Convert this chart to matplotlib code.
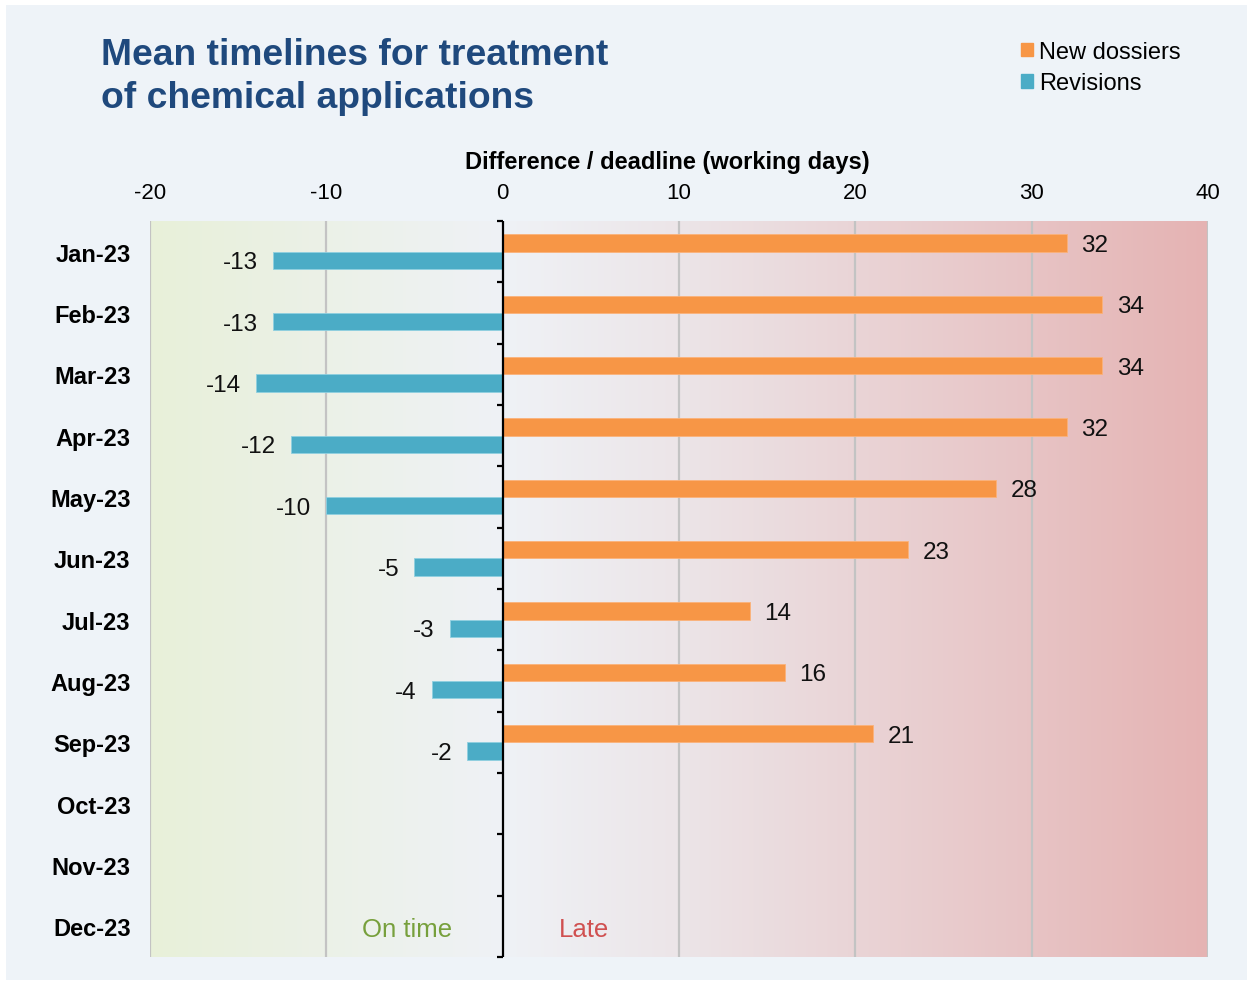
import matplotlib.pyplot as plt
import numpy as np
from matplotlib.colors import to_rgb
from matplotlib.patches import Patch, Rectangle

plt.rcParams['font.family'] = ['Liberation Sans', 'DejaVu Sans']
plt.rcParams['axes.unicode_minus'] = False

months = ["Jan-23", "Feb-23", "Mar-23", "Apr-23", "May-23", "Jun-23",
          "Jul-23", "Aug-23", "Sep-23", "Oct-23", "Nov-23", "Dec-23"]
new_dossiers = [32, 34, 34, 32, 28, 23, 14, 16, 21, None, None, None]
revisions = [-13, -13, -14, -12, -10, -5, -3, -4, -2, None, None, None]
x_ticks = [-20, -10, 0, 10, 20, 30, 40]

ORANGE = "#f79646"
BLUE = "#4bacc6"
TITLE_BLUE = "#1f497d"
BG = "#eef3f8"

fig = plt.figure(figsize=(12.53, 9.87), dpi=100, facecolor="white")
fig.patches.append(Rectangle((6 / 1253, 6 / 987), 1 - 12 / 1253, 1 - 12 / 987,
                             transform=fig.transFigure, facecolor=BG,
                             edgecolor="none", zorder=-10))

ax = fig.add_axes([150 / 1253, 29 / 987, 1058 / 1253, 736 / 987])
ax.set_facecolor("none")

# gradient background: green (on time) -> neutral -> red (late)
stops_x = [-20, 0, 10, 40]
stops_c = [to_rgb(c) for c in ["#e8f0d9", "#eff2f6", "#ece5e8", "#e5b3b3"]]
xs = np.linspace(-20, 40, 400)
grad = np.stack([np.interp(xs, stops_x, [c[i] for c in stops_c]) for i in range(3)], axis=-1)
ax.imshow(grad[np.newaxis, :, :], extent=[-20, 40, 11.5, -0.5], aspect="auto",
          interpolation="bilinear", zorder=0)

for x in x_ticks:
    if x != 0:
        ax.axvline(x, color="#c3c3c3", lw=1.6, zorder=1)

y = np.arange(len(months))
h = 0.28
nd = np.array([np.nan if v is None else v for v in new_dossiers], dtype=float)
rv = np.array([np.nan if v is None else v for v in revisions], dtype=float)
ax.barh(y - h / 2, nd, height=h, color=ORANGE, edgecolor="#fbb27a", lw=0.6, zorder=2)
ax.barh(y + h / 2, rv, height=h, color=BLUE, edgecolor="#8fd0e0", lw=0.6, zorder=2)

for yi, v in zip(y, nd):
    if not np.isnan(v):
        ax.annotate(f"{v:.0f}", (v, yi - h / 2), xytext=(10.5, -1.5), textcoords="offset points",
                    ha="left", va="center", fontsize=17.5, color="#111111")
for yi, v in zip(y, rv):
    if not np.isnan(v):
        ax.annotate(f"{v:.0f}", (v, yi + h / 2), xytext=(-11, -1.5), textcoords="offset points",
                    ha="right", va="center", fontsize=17.5, color="#111111")

# zero axis with category separator ticks
ax.axvline(0, color="black", lw=1.6, zorder=4)
bounds = np.arange(len(months) + 1) - 0.5
ax.plot(np.zeros_like(bounds), bounds, linestyle="none", marker=0, markersize=4.5,
        markeredgewidth=1.6, color="black", zorder=4, clip_on=False)

ax.set_xlim(-20, 40)
ax.set_ylim(11.5, -0.5)
ax.set_xticks(x_ticks)
ax.xaxis.tick_top()
ax.tick_params(axis="x", length=0, pad=13, labelsize=16)
ax.set_yticks(y)
ax.set_yticklabels(months, fontweight="bold")
ax.tick_params(axis="y", length=0, pad=14, labelsize=17)
for s in ax.spines.values():
    s.set_visible(False)

ax.text(0.489, 1.0815, "Difference / deadline (working days)", transform=ax.transAxes,
        ha="center", va="center", fontsize=17, fontweight="bold")

ax.text(-5.4, 11.05, "On time", ha="center", va="center", fontsize=18.5, color="#77a03c")
ax.text(4.6, 11.05, "Late", ha="center", va="center", fontsize=18.5, color="#d05050")

fig.text(101 / 1253, 1 - 77 / 987, "Mean timelines for treatment\nof chemical applications",
         ha="left", va="center", fontsize=26.8, fontweight="bold", color=TITLE_BLUE,
         linespacing=1.3)

handles = [Patch(color=ORANGE), Patch(color=BLUE)]
fig.legend(handles, ["New dossiers", "Revisions"], loc="upper left",
           bbox_to_anchor=(1021 / 1253, 1 - 42 / 987), frameon=False, fontsize=17,
           handlelength=0.5, handleheight=0.5, handletextpad=0.25, labelspacing=0.4,
           borderpad=0, borderaxespad=0)

fig.savefig("out.png", dpi=100, facecolor=fig.get_facecolor())
